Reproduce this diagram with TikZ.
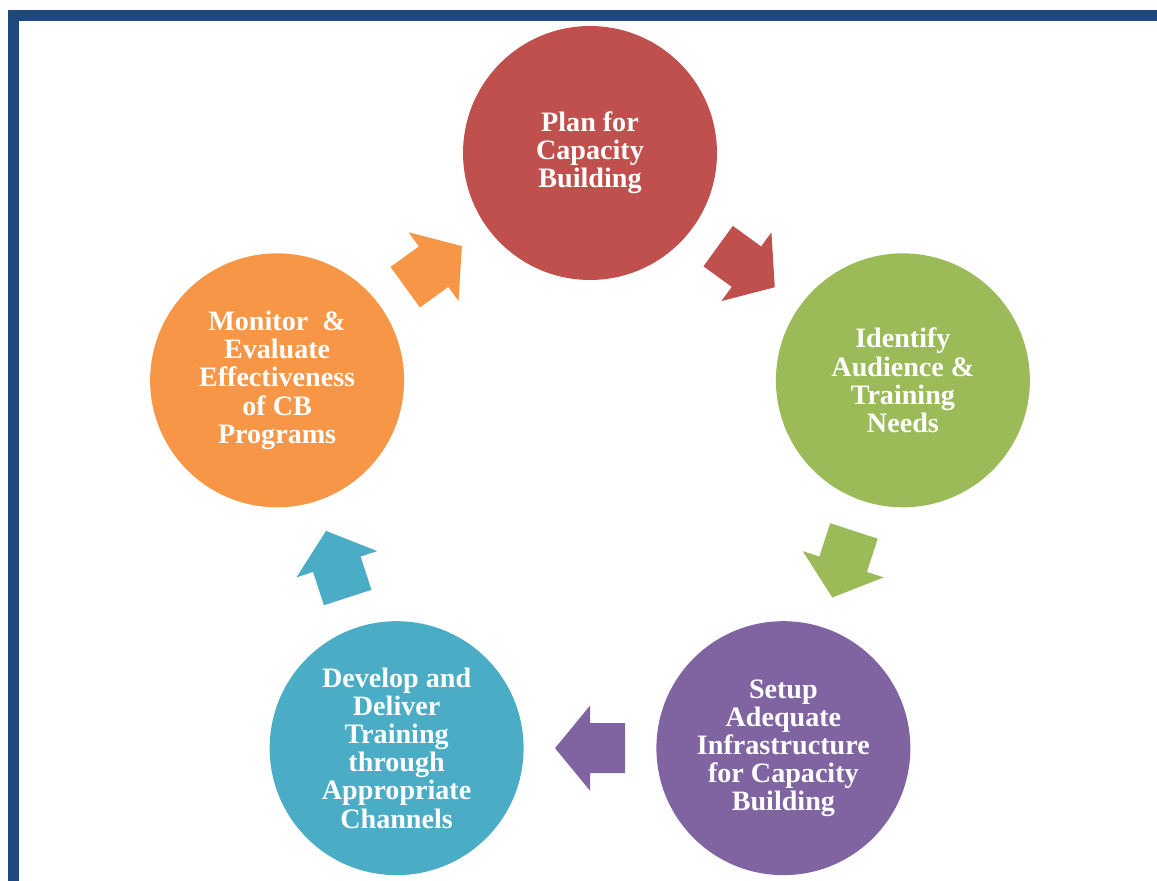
\documentclass[tikz,border=0pt]{standalone}
\usepackage{fontspec}
\setmainfont{Liberation Serif}
\usepackage{tikz}
\usetikzlibrary{calc}

\definecolor{cbred}{HTML}{C0504D}
\definecolor{cbgreen}{HTML}{9BBB59}
\definecolor{cbpurple}{HTML}{8064A2}
\definecolor{cbteal}{HTML}{4BACC6}
\definecolor{cborange}{HTML}{F79646}
\definecolor{cbframe}{HTML}{1F497D}

\begin{document}
\begin{tikzpicture}[x=0.02cm, y=0.02cm,
  stage/.style={circle, minimum size=5.08cm, inner sep=0pt, align=center,
    text=white, font=\bfseries\fontsize{16}{16}\selectfont}]
  \useasboundingbox (0,0) rectangle (1157,-881);

  % Frame
  \fill[cbframe] (8,-10) rectangle (1157,-21);
  \fill[cbframe] (8,-10) rectangle (19,-881);

  % Stages of the cycle
  \coordinate (hub) at (590,-482);
  \node[stage, fill=cbred]    (plan)     at ([shift={(90:329)}]hub)   {Plan for\\Capacity\\Building};
  \node[stage, fill=cbgreen]  (identify) at ([shift={(18:329)}]hub)   {Identify\\Audience \&\\Training\\Needs};
  \node[stage, fill=cbpurple] (setup)    at ([shift={(-54:329)}]hub)  {Setup\\Adequate\\Infrastructure\\for Capacity\\Building};
  \node[stage, fill=cbteal]   (develop)  at ([shift={(-126:329)}]hub) {Develop and\\Deliver\\Training\\through\\Appropriate\\Channels};
  \node[stage, fill=cborange] (monitor)  at ([shift={(162:329)}]hub)  {Monitor \ \&\\Evaluate\\Effectiveness\\of CB\\Programs};

  % Block arrows between stages
  \foreach \from/\to/\ang/\col in {plan/identify/-36/cbred, identify/setup/-108/cbgreen,
      setup/develop/180/cbpurple, develop/monitor/108/cbteal, monitor/plan/36/cborange}
    \fill[\col, shift={($(\from)!0.5!(\to)$)}, rotate=\ang]
      (-35,25) -- (0,25) -- (0,42.5) -- (35,0) -- (0,-42.5) -- (0,-25) -- (-35,-25) -- cycle;
\end{tikzpicture}
\end{document}
